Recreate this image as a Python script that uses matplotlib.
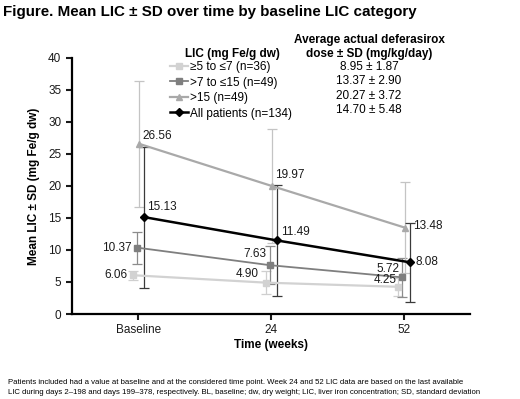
import numpy as np
import matplotlib
matplotlib.use("Agg")
import matplotlib.pyplot as plt

plt.rcParams["font.family"] = ["Liberation Sans", "DejaVu Sans"]

# Data
timepoints = ["Baseline", "24", "52"]
series_names = ["\u22655 to \u22647 (n=36)", ">7 to \u226415 (n=49)", ">15 (n=49)", "All patients (n=134)"]
mean_low = [6.06, 4.90, 4.25]
mean_mid = [10.37, 7.63, 5.72]
mean_high = [26.56, 19.97, 13.48]
mean_all = [15.13, 11.49, 8.08]
sd_low = [0.7, 1.8, 1.4]
sd_mid = [2.5, 3.0, 3.0]
sd_high = [9.8, 8.9, 7.1]
sd_all = [11.0, 8.7, 6.2]
dose_labels = ["8.95 \u00b1 1.87", "13.37 \u00b1 2.90", "20.27 \u00b1 3.72", "14.70 \u00b1 5.48"]

# styling per series: (means, sds, x offset, colour, bar colour, marker, lw, label offsets)
styles = [
    (mean_low, sd_low, -0.04, "#d2d2d2", "#cfcfcf", "s", 1.6,
     [(-4, 0, "right"), (-5, 6, "right"), (-1, 5, "right")]),
    (mean_mid, sd_mid, -0.01, "#7f7f7f", "#8c8c8c", "s", 1.3,
     [(-4, 0, "right"), (-2, 8, "right"), (-2, 6, "right")]),
    (mean_high, sd_high, 0.01, "#a9a9a9", "#c4c4c4", "^", 1.6,
     [(2, 6, "left"), (2, 8, "left"), (6, 1, "left")]),
    (mean_all, sd_all, 0.045, "#000000", "#3a3a3a", "D", 1.8,
     [(2, 7, "left"), (3, 6, "left"), (4, 0, "left")]),
]

fig = plt.figure(figsize=(5.2, 3.99), dpi=100)
ax = fig.add_axes([0.138, 0.213, 0.766, 0.642])

x = np.arange(len(timepoints))
handles = []
for means, sds, dx, col, barcol, mk, lw, offs in styles:
    xs = x + dx
    ax.errorbar(xs, means, yerr=sds, fmt="none", ecolor=barcol, elinewidth=0.9,
                capsize=3.5, capthick=0.9, zorder=2)
    (ln,) = ax.plot(xs, means, color=col, lw=lw, marker=mk, markersize=4.5,
                    markeredgecolor=col, zorder=3)
    handles.append(ln)
    for xi, yi, (ox, oy, ha) in zip(xs, means, offs):
        ax.annotate(f"{yi:.2f}", (xi, yi), xytext=(ox, oy), textcoords="offset points",
                    ha=ha, va="center", fontsize=8.5, color="#1a1a1a", zorder=4)

ax.set_xlim(-0.5, 2.5)
ax.set_ylim(0, 40)
ax.set_yticks(np.arange(0, 41, 5))
ax.set_xticks(x)
ax.set_xticklabels(timepoints)
ax.tick_params(labelsize=8.5, width=1.5, length=4, colors="#1a1a1a")
for s in ["top", "right"]:
    ax.spines[s].set_visible(False)
for s in ["left", "bottom"]:
    ax.spines[s].set_linewidth(1.6)
ax.set_xlabel("Time (weeks)", fontsize=8.5, fontweight="bold", labelpad=2)
ax.set_ylabel("Mean LIC \u00b1 SD (mg Fe/g dw)", fontsize=8.5, fontweight="bold", labelpad=6)

ax.legend(handles, series_names, loc="upper left", bbox_to_anchor=(170 / 520, 1 - 61 / 399),
          bbox_transform=fig.transFigure, frameon=False, fontsize=8.5, borderpad=0,
          borderaxespad=0, labelspacing=0.3, handlelength=1.5, handletextpad=0.2)

fig.text(185 / 520, 1 - 54 / 399, "LIC (mg Fe/g dw)", fontsize=8.5, fontweight="bold",
         va="center", ha="left")
fig.text(369 / 520, 1 - 40 / 399, "Average actual deferasirox", fontsize=8.5,
         fontweight="bold", va="center", ha="center")
fig.text(369 / 520, 1 - 54 / 399, "dose \u00b1 SD (mg/kg/day)", fontsize=8.5,
         fontweight="bold", va="center", ha="center")
for i, lab in enumerate(dose_labels):
    fig.text(369 / 520, 1 - (67 + i * 14.4) / 399, lab, fontsize=8.5, va="center", ha="center")

fig.text(3 / 520, 1 - 12 / 399, "Figure. Mean LIC \u00b1 SD over time by baseline LIC category",
         fontsize=10.9, fontweight="bold", va="center", ha="left")

fig.text(8 / 520, 1 - 383 / 399,
         "Patients included had a value at baseline and at the considered time point. Week 24 and 52 LIC data are based on the last available",
         fontsize=5.55, va="center", ha="left")
fig.text(8 / 520, 1 - 393 / 399,
         "LIC during days 2\u2013198 and days 199\u2013378, respectively. BL, baseline; dw, dry weight; LIC, liver iron concentration; SD, standard deviation",
         fontsize=5.55, va="center", ha="left")

fig.savefig("out.png", dpi=100, facecolor="white")
